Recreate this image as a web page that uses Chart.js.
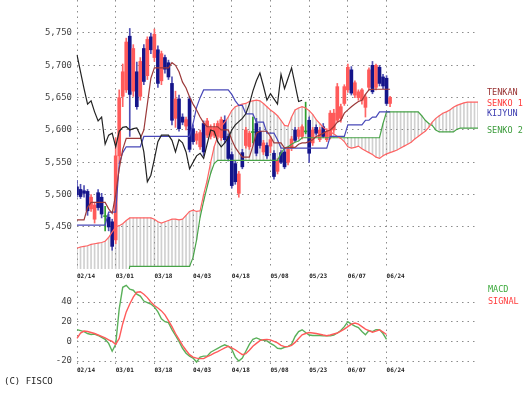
<!DOCTYPE html>
<html>
<head>
<meta charset="utf-8">
<script src="https://cdn.jsdelivr.net/npm/chart.js@4.4.1/dist/chart.umd.min.js"></script>
<style>
body{margin:0;background:#fff;}
#wrap{position:relative;width:531px;height:393px;overflow:hidden;background:#fff;}
#main{position:absolute;left:0;top:0;}
#macd{position:absolute;left:0;top:280px;}
.lbl{position:absolute;font-family:'DejaVu Sans Mono',monospace;font-size:8.5px;line-height:1;white-space:nowrap;}
</style>
</head>
<body>
<div id="wrap">
  <canvas id="main" width="531" height="285"></canvas>
  <canvas id="macd" width="531" height="100"></canvas>
  <div class="lbl" style="left:487px;top:88px;color:#993333">TENKAN</div>
  <div class="lbl" style="left:487px;top:99px;color:#ff3c3c">SENKO 1</div>
  <div class="lbl" style="left:487px;top:109px;color:#3c3cb0">KIJYUN</div>
  <div class="lbl" style="left:487px;top:126px;color:#3c9c3c">SENKO 2</div>
  <div class="lbl" style="left:488px;top:285px;color:#3caa3c">MACD</div>
  <div class="lbl" style="left:488px;top:297px;color:#ff3c3c">SIGNAL</div>
  <div class="lbl" style="left:4px;top:377px;color:#222;font-size:9px">(C) FISCO</div>
</div>
<script>
// tick labels (one every 11 trading days)
const tickDates = ['02/14','03/01','03/18','04/03','04/18','05/08','05/23','06/07','06/24'];
const tickStep = 11;
const totalSlots = 115; // 90 sessions + 25 slots of cloud ahead

const priceTicks = [5450, 5500, 5550, 5600, 5650, 5700, 5750];
const macdTicks = [-20, 0, 20, 40];

// candles
const open = [
  5512,5508,5506,5505,5478,5462,5503,5496,5466,5465,
  5458,5430,5560,5652,5662,5745,5660,5690,5652,5726,
  5684,5744,5712,5724,5676,5712,5704,5672,5618,5648,
  5620,5606,5648,5602,5584,5574,5610,5592,5590,5592,
  5590,5588,5615,5590,5562,5548,5502,5565,5576,5574,
  5596,5610,5598,5566,5576,5575,5564,5536,5565,5566,
  5550,5572,5600,5590,5590,5597,5615,5580,5604,5585,
  5605,5585,5589,5600,5615,5618,5641,5662,5693,5654,
  5650,5646,5635,5666,5700,5666,5697,5682,5680,5641];
const high = [
  5522,5516,5514,5508,5500,5488,5508,5502,5482,5470,
  5462,5588,5662,5702,5742,5757,5732,5705,5712,5732,
  5744,5750,5756,5730,5722,5716,5708,5682,5660,5654,
  5625,5620,5652,5608,5598,5600,5614,5618,5608,5610,
  5614,5620,5622,5594,5566,5552,5536,5570,5604,5598,
  5620,5618,5604,5584,5580,5590,5568,5556,5568,5570,
  5572,5590,5604,5604,5608,5643,5620,5604,5608,5604,
  5610,5602,5630,5632,5672,5640,5670,5702,5698,5676,
  5662,5664,5655,5696,5706,5702,5700,5686,5684,5652];
const low = [
  5496,5494,5496,5468,5474,5456,5476,5464,5444,5444,
  5414,5424,5548,5636,5658,5590,5652,5632,5646,5670,
  5678,5718,5706,5666,5670,5688,5678,5608,5604,5598,
  5608,5600,5566,5578,5578,5570,5560,5588,5586,5588,
  5586,5584,5580,5552,5510,5516,5496,5540,5572,5570,
  5580,5560,5572,5562,5556,5565,5524,5532,5548,5540,
  5546,5568,5582,5586,5586,5594,5550,5576,5592,5582,
  5588,5582,5586,5596,5612,5612,5638,5658,5654,5650,
  5646,5640,5620,5662,5656,5662,5668,5664,5638,5636];
const close = [
  5500,5497,5502,5475,5496,5484,5480,5470,5466,5450,
  5420,5560,5650,5690,5736,5655,5726,5636,5706,5675,
  5740,5724,5748,5672,5718,5694,5682,5615,5648,5602,
  5612,5616,5570,5582,5594,5596,5566,5614,5604,5604,
  5610,5616,5585,5556,5514,5520,5532,5543,5600,5595,
  5596,5564,5576,5580,5560,5585,5528,5553,5550,5543,
  5570,5586,5584,5600,5605,5597,5564,5600,5595,5600,
  5590,5598,5626,5626,5667,5636,5667,5697,5657,5673,
  5659,5662,5651,5693,5659,5700,5672,5668,5641,5650];

// ichimoku lines
const tenkan = [
  5461,5461,5461,5480,5488,5488,5488,5488,5488,5478,
  5471,5500,5540,5570,5587,5587,5587,5587,5587,5600,
  5640,5680,5696,5696,5696,5696,5696,5704,5700,5690,
  5674,5665,5651,5640,5631,5620,5611,5605,5605,5605,
  5605,5600,5600,5600,5585,5573,5565,5558,5558,5558,
  5575,5595,5598,5598,5598,5590,5580,5580,5580,5572,
  5573,5573,5573,5578,5580,5580,5582,5585,5590,5592,
  5595,5598,5600,5605,5612,5615,5626,5631,5636,5640,
  5644,5646,5655,5662,5663,5663,5663,5663,5663,5663];
const kijun = [
  5453,5453,5453,5453,5453,5453,5453,5453,5453,5473,
  5473,5473,5548,5565,5574,5574,5574,5574,5574,5590,
  5590,5590,5590,5590,5590,5590,5590,5590,5590,5590,
  5590,5590,5590,5610,5635,5650,5662,5662,5662,5662,
  5662,5662,5662,5662,5655,5645,5638,5638,5625,5625,
  5625,5612,5612,5612,5595,5595,5595,5585,5572,5572,
  5572,5572,5572,5572,5572,5572,5572,5572,5572,5572,
  5572,5572,5590,5590,5590,5590,5590,5608,5608,5608,
  5608,5608,5615,5615,5620,5620,5628,5628,5628,5628];
const senkou1 = [
  5417,5419,5420,5421,5423,5424,5425,5426,5428,5434,
  5442,5450,5452,5455,5460,5464,5464,5464,5464,5464,
  5464,5464,5462,5458,5456,5458,5460,5462,5462,5461,
  5462,5468,5474,5476,5474,5475,5500,5522,5550,5574,
  5590,5605,5612,5620,5630,5636,5638,5640,5641,5644,
  5645,5646,5645,5641,5636,5631,5627,5622,5615,5607,
  5606,5620,5631,5634,5636,5634,5630,5624,5616,5610,
  5604,5600,5597,5594,5590,5587,5582,5574,5572,5573,
  5575,5571,5568,5565,5562,5558,5556,5560,5563,5565,
  5567,5569,5572,5575,5578,5581,5586,5590,5594,5598,
  5604,5612,5618,5622,5626,5628,5631,5635,5638,5640,
  5642,5643,5643,5643,5643];
const senkou2 = [
  5360,5360,5360,5360,5360,5360,5360,5360,5360,5360,
  5360,5360,5360,5360,5360,5389,5389,5389,5389,5389,
  5389,5389,5389,5389,5389,5389,5389,5389,5389,5389,
  5389,5389,5389,5403,5430,5465,5490,5512,5533,5548,
  5553,5553,5553,5553,5553,5553,5553,5553,5553,5553,
  5553,5553,5553,5553,5553,5553,5553,5553,5564,5572,
  5574,5578,5581,5583,5588,5588,5588,5588,5588,5588,
  5588,5588,5588,5588,5588,5588,5588,5588,5588,5588,
  5588,5588,5588,5588,5588,5588,5588,5610,5628,5628,
  5628,5628,5628,5628,5628,5628,5628,5628,5622,5615,
  5610,5607,5600,5597,5597,5597,5597,5597,5601,5603,
  5603,5603,5603,5603,5603];
const chikou = [
  5716,5690,5664,5640,5645,5628,5614,5620,5578,5592,
  5595,5574,5598,5604,5605,5600,5602,5603,5592,5566,
  5520,5530,5555,5582,5592,5592,5592,5584,5566,5585,
  5580,5566,5540,5550,5560,5564,5556,5578,5600,5598,
  5582,5574,5580,5588,5600,5608,5613,5618,5625,5640,
  5660,5676,5688,5668,5646,5656,5648,5640,5686,5664,
  5680,5696,5670,5644,5646];

// macd panel
const macd = [
  12,11,10,8,7,7.5,6,4,2,-2,
  -10,-3,33,55,57,53,52,48,46,41,
  39.5,38,35,30,23,20,19,12,6,0,
  -7,-12,-15,-17,-21,-16,-15,-15,-11,-9,
  -7,-5,-3.5,-5,-8,-16,-20,-17,-10,-3,
  2,3.5,2,1,0.5,-2,-4,-7,-7.5,-6,
  -5,-3,5,10,11.8,9,6.5,6,6,6,
  5.6,5.6,5.6,6.5,8.5,11,15,20,17.5,15.5,
  14,10,6.7,11,10,12,12,8,2];
const signal = [
  3,8.5,10.5,10,9,8,6.5,5,3.5,1.5,
  0,-3,3,18,30,38,45,50,50.5,48,
  44.5,40,36.5,34,31,27,21,15,8,2,
  -4,-9,-13.5,-16,-17,-17.5,-17.5,-15.5,-14,-12,
  -10.5,-8.5,-6.5,-5,-6.5,-8.5,-11,-13.5,-12.5,-9,
  -5,-2,0.8,1.8,2,1.5,0,-1.5,-4,-5.3,
  -5.3,-4,-1,3,6.7,8,9,8.5,8,7.3,
  6.5,5.8,6.5,7.5,8.5,10.5,12.5,15,17.6,18.7,
  17.5,15,12.5,11,9.4,10.5,11.8,9.5,7];

const labels = Array.from({length: totalSlots}, (_, i) =>
  (i % tickStep === 0 && tickDates[i / tickStep]) || '');
const tickIdx = tickDates.map((_, k) => k * tickStep);

// up = red, down = navy, doji = green
const bodyColor = open.map((o, i) => close[i] > o ? '#ff5a5a' : close[i] < o ? '#14148a' : '#2e9e2e');
const wickColor = open.map((o, i) => close[i] > o ? '#ff6666' : close[i] < o ? '#5050b4' : '#2e9e2e');

const GRID = '#8c8c8c';
const DASH = [1.5, 4];

function xAxis(){
  return {
    type: 'category',
    offset: false,
    grid: {color: GRID, lineWidth: 1, drawTicks: false, offset: false},
    border: {display: false, dash: DASH},
    ticks: {autoSkip: false, maxRotation: 0, align: 'start', padding: 4, color: '#222',
            font: {family: 'DejaVu Sans Mono', size: 6, weight: 'bold'}},
    afterBuildTicks: s => { s.ticks = tickIdx.map(v => ({value: v})); },
    afterFit: s => { s.height = 16; s.paddingLeft = 0; s.paddingRight = 0; }
  };
}

function yAxis(min, max, ticks, fmt){
  return {
    min, max,
    grid: {color: GRID, lineWidth: 1, drawTicks: false},
    border: {display: false, dash: DASH},
    ticks: {padding: 5, color: '#444', font: {family: 'DejaVu Sans Mono', size: 9}, callback: fmt},
    afterBuildTicks: s => { s.ticks = ticks.map(v => ({value: v})); },
    afterFit: s => { s.width = 77; s.paddingTop = 0; s.paddingBottom = 0; }
  };
}

function line(data, color, order, width){
  return {type: 'line', data, borderColor: color, borderWidth: width || 1.2,
          pointRadius: 0, tension: 0, fill: false, order};
}

// price + ichimoku
new Chart(document.getElementById('main'), {
  type: 'bar',
  data: {
    labels,
    datasets: [
      {data: senkou1.map((a, i) => [a, senkou2[i]]), backgroundColor: 'rgba(150,150,150,0.45)',
       barThickness: 1, grouped: false, borderWidth: 0, order: 10},
      {data: low.map((l, i) => [l, high[i]]), backgroundColor: wickColor,
       barThickness: 1, grouped: false, borderWidth: 0, order: 6},
      {data: open.map((o, i) => [o, close[i]]), backgroundColor: bodyColor,
       barThickness: 3, minBarLength: 1, grouped: false, borderWidth: 0, order: 5},
      line(senkou1, '#ff6464', 4),
      line(senkou2, '#48a448', 4),
      line(kijun, '#4848b8', 3),
      line(tenkan, '#9c3a3a', 2),
      line(chikou, '#222222', 1)
    ]
  },
  options: {
    responsive: false,
    animation: false,
    events: [],
    layout: {padding: {left: 0, right: 53, top: 0, bottom: 0}},
    plugins: {legend: {display: false}, tooltip: {enabled: false}},
    scales: {
      x: xAxis(),
      y: yAxis(5385, 5801, priceTicks, v => v.toLocaleString('en-US'))
    }
  }
});

// MACD
const macdX = xAxis();
macdX.afterFit = s => { s.height = 15; s.paddingLeft = 0; s.paddingRight = 0; };
macdX.ticks.padding = 2;

new Chart(document.getElementById('macd'), {
  type: 'line',
  data: {
    labels,
    datasets: [
      line(macd, '#5ab05a', 2, 1.4),
      line(signal, '#ff5a5a', 1, 1.4)
    ]
  },
  options: {
    responsive: false,
    animation: false,
    events: [],
    layout: {padding: {left: 0, right: 53, top: 0, bottom: 0}},
    plugins: {legend: {display: false}, tooltip: {enabled: false}},
    scales: {
      x: macdX,
      y: yAxis(-24, 62.4, macdTicks, v => String(v))
    }
  }
});
</script>
</body>
</html>
